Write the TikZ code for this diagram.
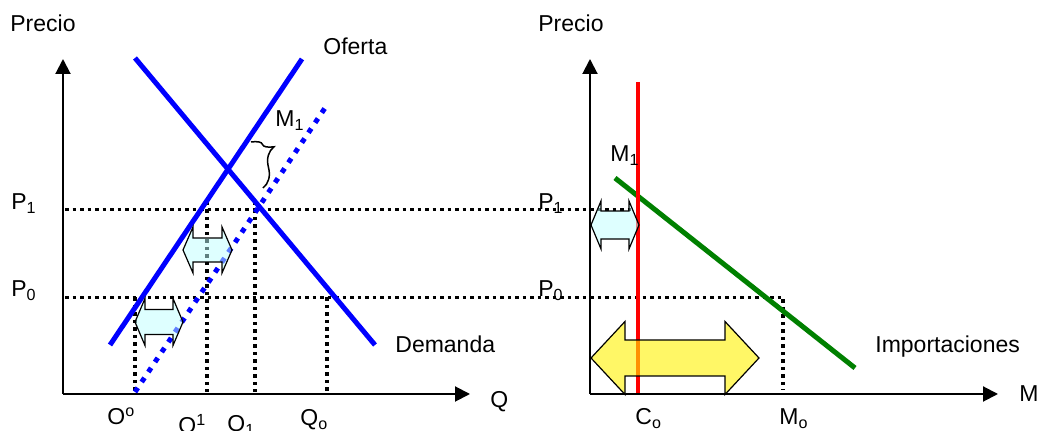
\documentclass[tikz,border=0pt]{standalone}
\usepackage{fontspec}
\setmainfont{Liberation Sans}
\usetikzlibrary{arrows.meta,decorations.pathreplacing}

\definecolor{curveblue}{RGB}{0,0,255}
\definecolor{importgreen}{RGB}{0,128,0}
\definecolor{quotared}{RGB}{255,0,0}
\definecolor{gapcyan}{RGB}{190,255,255}

% block double arrow: style, left x, right x, mid y, shaft half, head half, head length
\newcommand{\dblarrow}[7]{%
  \draw[#1] (#2,#4) -- ({#2+#7},{#4-#6}) -- ({#2+#7},{#4-#5}) -- ({#3-#7},{#4-#5})
    -- ({#3-#7},{#4-#6}) -- (#3,#4) -- ({#3-#7},{#4+#6}) -- ({#3-#7},{#4+#5})
    -- ({#2+#7},{#4+#5}) -- ({#2+#7},{#4+#6}) -- cycle;}

\begin{document}
\begin{tikzpicture}[x=0.5pt, y=-0.5pt,
    lbl/.style={anchor=base west, inner sep=0pt, font=\fontsize{11.5}{13}\selectfont},
    axis/.style={line width=1pt, -{Triangle[length=7.5pt,width=7.5pt]}},
    curve/.style={line width=2.5pt, curveblue},
    shifted/.style={line width=2.5pt, curveblue, dash pattern=on 2.5pt off 3.5pt},
    guide/.style={line width=1.75pt, dash pattern=on 1.75pt off 2pt},
    gap/.style={draw, line width=0.6pt, fill=gapcyan, fill opacity=0.5},
    quota/.style={draw, line width=0.6pt, fill=yellow, fill opacity=0.6}
  ]
  \useasboundingbox (0,0) rectangle (1039,431);

  % --- mercado interno ---
  \coordinate (O)    at (63,394);
  \coordinate (Ptop) at (63,59);
  \coordinate (Qend) at (470,394);
  \coordinate (S0) at (110,345);  \coordinate (S1) at (302,59);
  \coordinate (D0) at (135,58);   \coordinate (D1) at (375,345);
  \coordinate (M0) at (135,392);  \coordinate (M1) at (325,108);

  \draw[guide] (65,209.5) coordinate (p1a) -- (632,209.5) coordinate (p1b);
  \draw[guide] (65,297.5) coordinate (p0a) -- (783,297.5) coordinate (p0b)
    -- (783,390) coordinate (mo);
  \draw[guide] (135,297.5) coordinate (oo) -- (135,392);
  \draw[guide] (207,202) coordinate (o1) -- (207,392);
  \draw[guide] (255,202) coordinate (q1) -- (255,392);
  \draw[guide] (327,297.5) coordinate (qo) -- (327,392);

  \draw[axis] (O) -- (Ptop);
  \draw[axis] (O) -- (Qend);

  \draw[shifted] (M0) -- (M1);
  \draw[curve] (S0) -- (S1);
  \draw[curve] (D0) -- (D1);
  \draw[line width=0.75pt, decorate, decoration={brace, amplitude=10.5pt, aspect=0.22}]
    (251,142) -- (263,188);

  \dblarrow{gap}{135}{183}{322}{12.5}{23.5}{10}
  \dblarrow{gap}{183}{232}{250}{12}{23}{10}

  \node[lbl] (precioL) at (10,32)  {Precio};
  \node[lbl] (oferta)  at (323,55) {Oferta};
  \node[lbl] (m1L)     at (275,127) {M\textsubscript{1}};
  \node[lbl] (p1L)     at (11,210) {P\textsubscript{1}};
  \node[lbl] (p0L)     at (11,297) {P\textsubscript{0}};
  \node[lbl] (demanda) at (395,353) {Demanda};
  \node[lbl] (oOo)     at (107,425) {O\textsuperscript{o}};
  \node[lbl] (oO1)     at (178,434) {O\textsuperscript{1}};
  \node[lbl] (qQ1)     at (227,432) {Q\textsubscript{1}};
  \node[lbl] (qQo)     at (300,426) {Q\textsubscript{o}};
  \node[lbl] (qaxis)   at (490,408) {Q};

  % --- mercado de importaciones ---
  \coordinate (Or)    at (590,394);
  \coordinate (Ptopr) at (590,59);
  \coordinate (Mend)  at (998,394);
  \coordinate (C0) at (638,82);   \coordinate (C1) at (638,393);
  \coordinate (I0) at (615,178);  \coordinate (I1) at (855,368);

  \draw[axis] (Or) -- (Ptopr);
  \draw[axis] (Or) -- (Mend);
  \draw[line width=2.5pt, importgreen] (I0) -- (I1);
  \draw[line width=2pt, quotared] (C0) -- (C1);

  \dblarrow{gap}{591}{639}{225}{14}{24}{10}
  \dblarrow{quota}{591}{759}{358}{18}{36.5}{34}

  \node[lbl] (precioR) at (538,32)  {Precio};
  \node[lbl] (m1R)     at (610,162) {M\textsubscript{1}};
  \node[lbl] (p1R)     at (538,210) {P\textsubscript{1}};
  \node[lbl] (p0R)     at (538,297) {P\textsubscript{0}};
  \node[lbl] (import)  at (875,353) {Importaciones};
  \node[lbl] (cCo)     at (635,425) {C\textsubscript{o}};
  \node[lbl] (mMo)     at (779,425) {M\textsubscript{o}};
  \node[lbl] (maxis)   at (1019,402) {M};
\end{tikzpicture}
\end{document}
